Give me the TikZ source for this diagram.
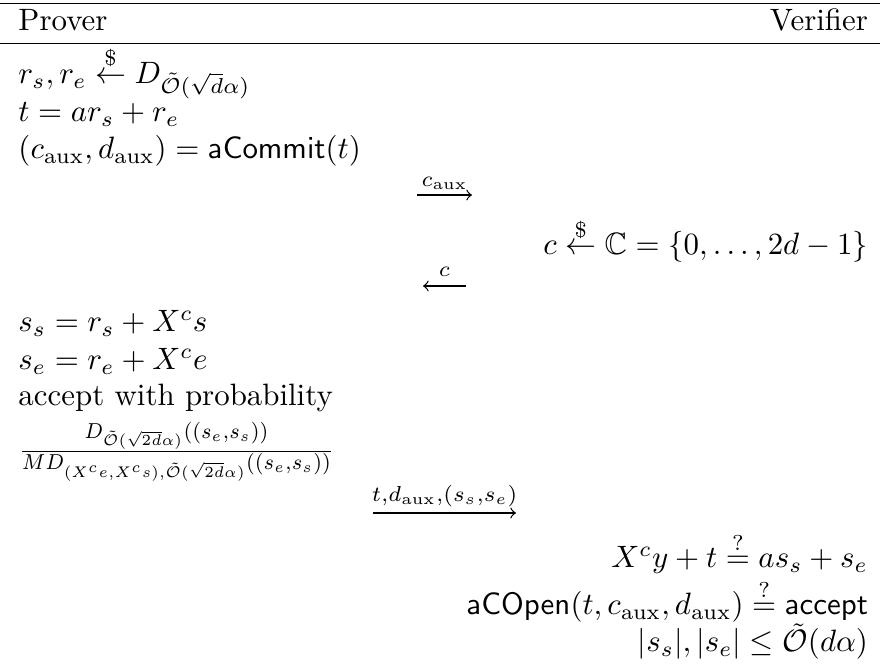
\documentclass[tikz,border=0pt]{standalone}
\usepackage{amsmath}
\usepackage{amssymb}
\usepackage{graphicx}
\usetikzlibrary{positioning}

\tikzset{
    cell/.style={inner sep=0pt, outer sep=0pt},
    prv/.style={cell, anchor=base west},
    vrf/.style={cell, anchor=base east},
    hrule/.style={line width=0.4pt},
    msg/.style={->, line width=0.4pt},
    msglabel/.style={cell, anchor=base, yshift=#1}
}

\begin{document}
\begin{tikzpicture}[x=0.3236pt, y=-0.3236pt]
    \useasboundingbox (0,0) rectangle (880,668);

    % Header and rules
    \draw[hrule] (0,3.3) -- (880,3.3);
    \node[prv] (prover) at (18.5,31) {Prover};
    \node[vrf] (verifier) at (868,31) {Verifier};
    \draw[hrule] (0,43.3) -- (880,43.3);

    % Prover: commitment
    \node[prv] (sampleR) at (18.5,83.5) {$r_s, r_e \stackrel{\$}{\leftarrow} D_{\tilde{\mathcal{O}}(\sqrt{d}\alpha)}$};
    \node[prv] (maskT) at (18.5,121.5) {$t = ar_s + r_e$};
    \node[prv] (commitT) at (18.5,158.5) {$(c_{\mathrm{aux}}, d_{\mathrm{aux}}) = \mathsf{aCommit}(t)$};

    \coordinate (m1s) at (417,195);
    \coordinate (m1e) at (472,195);
    \draw[msg] (m1s) -- (m1e) node[msglabel=2.9pt, midway] (m1l) {$\scriptstyle c_{\mathrm{aux}}$};

    % Verifier: challenge
    \node[vrf] (challenge) at (868,255) {$c \stackrel{\$}{\leftarrow} \mathbb{C} = \{0, \ldots, 2d-1\}$};

    \coordinate (m2s) at (466,286);
    \coordinate (m2e) at (423,286);
    \draw[msg] (m2s) -- (m2e) node[msglabel=3pt, midway] (m2l) {$\scriptstyle c$};

    % Prover: response
    \node[prv] (respS) at (18.5,332) {$s_s = r_s + X^c s$};
    \node[prv] (respE) at (18.5,370) {$s_e = r_e + X^c e$};
    \node[prv] (respAcc) at (18.5,405.5) {accept with probability};
    \node[prv] (respProb) at (18.5,459) {\scalebox{0.91}[1]{$\frac{D_{\tilde{\mathcal{O}}(\sqrt{2d}\alpha)}((s_e,s_s))}{MD_{(X^c e, X^c s),\tilde{\mathcal{O}}(\sqrt{2d}\alpha)}((s_e,s_s))}$}};

    \coordinate (m3s) at (373,513);
    \coordinate (m3e) at (516,513);
    \draw[msg] (m3s) -- (m3e) node[msglabel=3.6pt, midway] (m3l) {$\scriptstyle t, d_{\mathrm{aux}}, (s_s, s_e)$};

    % Verifier: checks
    \node[vrf] (checkEq) at (868,568) {$X^c y + t \stackrel{?}{=} as_s + s_e$};
    \node[vrf] (checkOpen) at (868,615) {$\mathsf{aCOpen}(t, c_{\mathrm{aux}}, d_{\mathrm{aux}}) \stackrel{?}{=} \mathsf{accept}$};
    \node[vrf] (checkNorm) at (868,652) {$|s_s|, |s_e| \le \tilde{\mathcal{O}}(d\alpha)$};
\end{tikzpicture}
\end{document}
